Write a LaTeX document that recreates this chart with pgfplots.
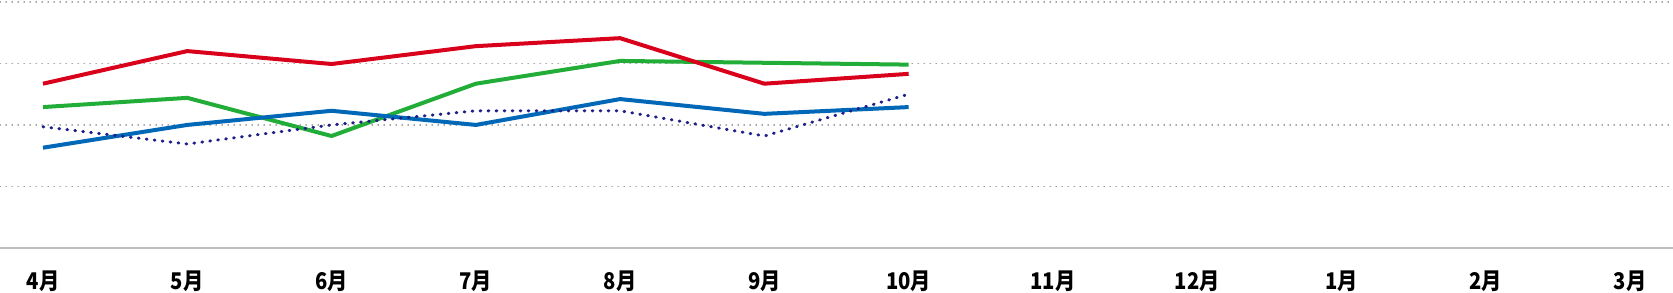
\documentclass[border=0pt]{standalone}
\usepackage{pgfplots}
\pgfplotsset{compat=1.18}
\usepackage{fontspec}
\newfontfamily\jp[FakeStretch=0.88]{Noto Sans CJK JP}
\definecolor{cred}{HTML}{D9001B}
\definecolor{cgreen}{HTML}{22AC38}
\definecolor{cblue}{HTML}{0068B7}
\definecolor{cnavy}{HTML}{1D2088}
\begin{document}
\begin{tikzpicture}
\begin{axis}[
  name=ax,
  scale only axis,
  width=836.5pt, height=124pt,
  xmin=-0.298, xmax=11.298,
  ymin=0, ymax=4.03,
  axis line style={draw=none},
  xtick={0,...,11},
  xticklabels={4月,5月,6月,7月,8月,9月,10月,11月,12月,1月,2月,3月},
  xticklabel style={anchor=center, yshift=-16.5pt, font=\jp\bfseries\fontsize{11.5pt}{12pt}\selectfont, text=black},
  ytick={1,2,3,4},
  yticklabels={},
  major tick length=0pt,
  ymajorgrids,
  grid style={gray!75, line width=0.7pt, line cap=round, dash pattern=on 0.2pt off 2.8pt},
  extra y ticks={0},
  extra y tick labels={},
  extra y tick style={grid style={solid, draw=black!25, line width=1pt}},
  clip=false,
]
\addplot[cgreen, line width=2pt, line join=round] coordinates {(0,2.29) (1,2.44) (2,1.82) (3,2.67) (4,3.04) (5,3.01) (6,2.98)};
\addplot[cred, line width=2pt, line join=round] coordinates {(0,2.67) (1,3.20) (2,2.99) (3,3.28) (4,3.41) (5,2.67) (6,2.83)};
\addplot[cblue, line width=2pt, line join=round] coordinates {(0,1.63) (1,2.00) (2,2.23) (3,2.00) (4,2.42) (5,2.18) (6,2.29)};
\addplot[cnavy, line width=1.5pt, line cap=round, dash pattern=on 0.4pt off 3.6pt] coordinates {(0,1.97) (1,1.69) (2,2.00) (3,2.23) (4,2.23) (5,1.82) (6,2.50)};
\end{axis}
\pgfresetboundingbox
\path ([yshift=-22pt]ax.south west) rectangle (ax.north east);
\end{tikzpicture}
\end{document}
